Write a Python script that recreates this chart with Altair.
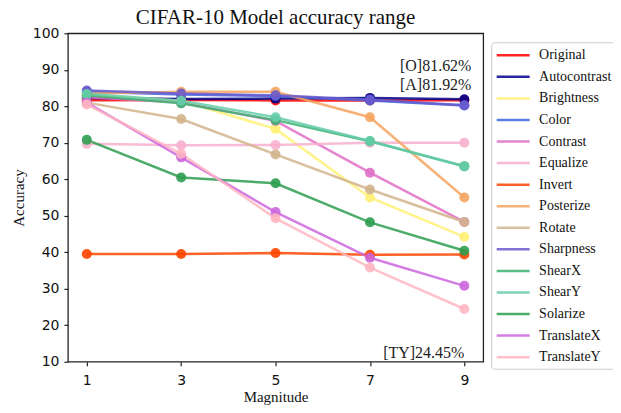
import altair as alt
import pandas as pd

magnitudes = [1, 3, 5, 7, 9]
y_ticks = [10, 20, 30, 40, 50, 60, 70, 80, 90, 100]
names = ["Original", "Autocontrast", "Brightness", "Color", "Contrast", "Equalize",
         "Invert", "Posterize", "Rotate", "Sharpness", "ShearX", "ShearY",
         "Solarize", "TranslateX", "TranslateY"]
colors = ["#ff0000", "#00008b", "#fff176", "#4169e1", "#e070c8", "#f7b0cf",
          "#ff4500", "#f4a460", "#d2b48c", "#6a5acd", "#3cb371", "#66cdaa",
          "#2e9e50", "#cc66dd", "#ffb6c1"]

original = [81.62, 81.7, 81.6, 81.6, 81.62]
autocontrast = [82.3, 82.0, 82.1, 82.3, 81.92]
brightness = [83.0, 81.5, 73.8, 55.0, 44.2]
color = [84.0, 83.2, 82.8, 81.6, 80.2]
contrast = [82.5, 81.0, 76.0, 61.8, 48.3]
equalize = [69.7, 69.3, 69.4, 70.0, 70.0]
invert = [39.5, 39.5, 39.8, 39.3, 39.4]
posterize = [83.5, 84.0, 84.0, 77.0, 55.0]
rotate = [81.0, 76.5, 66.8, 57.2, 48.3]
sharpness = [84.3, 83.5, 83.0, 81.8, 80.3]
shearx = [83.0, 80.8, 76.2, 70.4, 63.6]
sheary = [83.4, 81.5, 77.0, 70.5, 63.5]
solarize = [70.8, 60.5, 58.9, 48.2, 40.4]
translatex = [81.0, 66.0, 51.0, 38.5, 30.8]
translatey = [80.5, 67.0, 49.3, 35.8, 24.45]

series = [original, autocontrast, brightness, color, contrast, equalize, invert,
          posterize, rotate, sharpness, shearx, sheary, solarize, translatex, translatey]

ann_text = ["[O]81.62%", "[A]81.92%", "[TY]24.45%"]
ann_x = [9.15, 9.15, 9.0]
ann_y = [91.0, 85.8, 12.5]

rows = []
for i, (n, vals) in enumerate(zip(names, series)):
    for m, v in zip(magnitudes, vals):
        rows.append({"Aug": n, "Magnitude": m, "Accuracy": v, "order": i})
df = pd.DataFrame(rows)
ann = pd.DataFrame({"text": ann_text, "x": ann_x, "y": ann_y})

xscale = alt.Scale(domain=[0.6, 9.4], nice=False, zero=False)
yscale = alt.Scale(domain=[10, 100], nice=False, zero=False)
cscale = alt.Scale(domain=names, range=colors)
xaxis = alt.Axis(values=magnitudes, title="Magnitude", grid=False)
yaxis = alt.Axis(values=y_ticks, title="Accuracy", grid=False)

base = alt.Chart(df).encode(
    x=alt.X("Magnitude:Q", scale=xscale, axis=xaxis),
    y=alt.Y("Accuracy:Q", scale=yscale, axis=yaxis),
    color=alt.Color("Aug:N", scale=cscale, sort=names,
                    legend=alt.Legend(title=None, orient="none", legendX=424, legendY=9,
                                      symbolType="M-1,0L3.4,0")),
    detail="Aug:N",
)

lines = base.mark_line(strokeWidth=2.5, opacity=0.85)
points = base.mark_point(filled=True, size=100, opacity=0.9)

text = alt.Chart(ann).mark_text(align="right", baseline="middle", font="Liberation Serif",
                                fontSize=16, color="#222").encode(
    x=alt.X("x:Q", scale=xscale, axis=xaxis), y=alt.Y("y:Q", scale=yscale, axis=yaxis),
    text="text:N")

chart = alt.layer(lines, points, text).properties(
    width=416, height=329,
    title=alt.TitleParams("CIFAR-10 Model accuracy range", font="Liberation Serif",
                          fontSize=21, fontWeight="normal", color="#111", offset=-2,
                          frame="group"),
    autosize=alt.AutoSizeParams(type="none"),
    padding={"left": 60, "top": 25, "right": 130, "bottom": 43},
).configure_view(stroke="#222", strokeWidth=1.3).configure_axis(
    domain=False, tickColor="#222", tickSize=4, tickWidth=1.2, labelOverlap=False,
    labelFont="DejaVu Sans", labelFontSize=14, labelColor="#111",
    titleFont="Liberation Serif", titleFontSize=15, titleFontWeight="normal", titleColor="#111",
).configure_axisY(titlePadding=6, labelPadding=5).configure_axisX(
    titlePadding=2, labelPadding=8).configure_legend(
    labelFont="Liberation Serif", labelFontSize=14, labelColor="#111",
    symbolSize=225, symbolStrokeWidth=2.5, labelOffset=26, rowPadding=5.6,
    symbolFillColor="transparent",
    strokeColor="#cccccc", cornerRadius=3, padding=4, fillColor="white",
)

chart.save("out.html", embed_options={"renderer": "svg", "actions": False})
